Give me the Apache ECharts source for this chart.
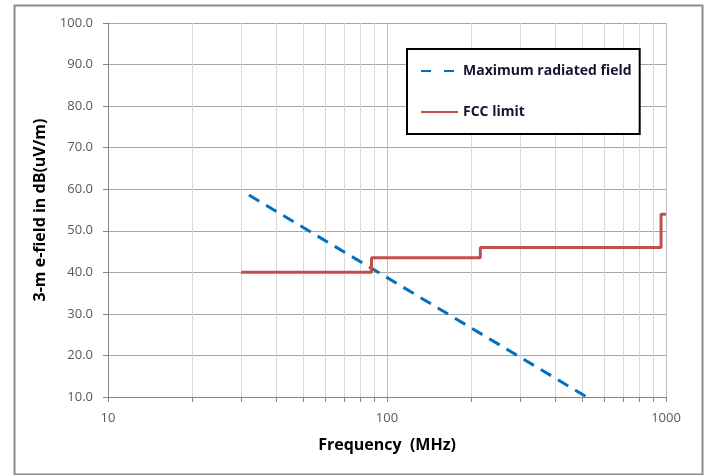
<!DOCTYPE html>
<html>
<head>
<meta charset="utf-8">
<script src="https://cdn.jsdelivr.net/npm/echarts@6/dist/echarts.min.js"></script>
<style>html,body{margin:0;padding:0;background:#fff;}#c{width:716px;height:475px;}</style>
</head>
<body>
<div id="c"></div>
<script>
// Maximum radiated field (dashed line)
const maxFreq = [32, 520];
const maxField = [58.6, 10];
// FCC limit (step line)
const fccFreq = [30, 88, 88, 216, 216, 960, 960, 1000];
const fccLimit = [40, 40, 43.5, 43.5, 46, 46, 54, 54];
const seriesNames = ['Maximum radiated field', 'FCC limit'];
const yMin = 10, yMax = 100, yStep = 10;
const xMin = 10, xMax = 1000;

const FONT = '"Open Sans", "Noto Sans", sans-serif';
const chart = echarts.init(document.getElementById('c'));
chart.setOption({
  animation: false,
  textStyle: { fontFamily: FONT },
  graphic: [{
    type: 'rect', left: 12, top: 3, silent: true,
    shape: { width: 688, height: 469 },
    style: { fill: 'none', stroke: '#8c8c8c', lineWidth: 2 }
  }],
  grid: { left: 108, right: 50, top: 23, bottom: 78 },
  legend: {
    left: 407, top: 49,
    orient: 'vertical',
    backgroundColor: '#fff',
    borderColor: '#000', borderWidth: 2,
    padding: [15, 8, 15, 13],
    itemWidth: 37, itemHeight: 14, itemGap: 27,
    itemStyle: { color: 'transparent', borderWidth: 0, opacity: 0 },
    textStyle: { fontFamily: FONT, fontSize: 14, fontWeight: 'bold', color: '#14142e' },
    data: [
      { name: seriesNames[0], lineStyle: { type: [10, 13] } },
      { name: seriesNames[1] }
    ]
  },
  xAxis: {
    type: 'log', logBase: 10, min: xMin, max: xMax,
    name: 'Frequency  (MHz)', nameLocation: 'middle', nameGap: 40,
    nameTextStyle: { fontFamily: FONT, fontSize: 16, fontWeight: 'bold', color: '#000' },
    axisLine: { lineStyle: { color: '#868686', width: 1 } },
    axisTick: { show: true, length: 5, lineStyle: { color: '#868686' } },
    minorTick: { show: true, splitNumber: 9, length: 5, lineStyle: { color: '#868686' } },
    axisLabel: { fontFamily: FONT, fontSize: 13, color: '#595959', margin: 15,
      formatter: v => String(Math.round(v)) },
    splitLine: { show: true, lineStyle: { color: '#bfbfbf', width: 1 } },
    minorSplitLine: { show: true, lineStyle: { color: '#d9d9d9', width: 1 } }
  },
  yAxis: {
    type: 'value', min: yMin, max: yMax, interval: yStep,
    name: '3-m e-field in dB(uV/m)', nameLocation: 'middle', nameGap: 60,
    nameTextStyle: { fontFamily: FONT, fontSize: 16, fontWeight: 'bold', color: '#000' },
    axisLine: { show: true, lineStyle: { color: '#868686', width: 1 } },
    axisTick: { show: true, length: 5, lineStyle: { color: '#868686' } },
    axisLabel: { fontFamily: FONT, fontSize: 13, color: '#595959', margin: 15,
      formatter: v => v.toFixed(1) },
    splitLine: { show: true, lineStyle: { color: '#a6a6a6', width: 1 } }
  },
  series: [
    {
      name: seriesNames[0], type: 'line', showSymbol: false, symbol: 'none',
      data: maxFreq.map((f, i) => [f, maxField[i]]),
      lineStyle: { color: '#0070c0', width: 3, type: [12, 8] },
      itemStyle: { color: '#0070c0' }
    },
    {
      name: seriesNames[1], type: 'line', showSymbol: false, symbol: 'none',
      data: fccFreq.map((f, i) => [f, fccLimit[i]]),
      lineStyle: { color: '#c0504d', width: 3 },
      itemStyle: { color: '#c0504d' }
    }
  ]
});
</script>
</body>
</html>
